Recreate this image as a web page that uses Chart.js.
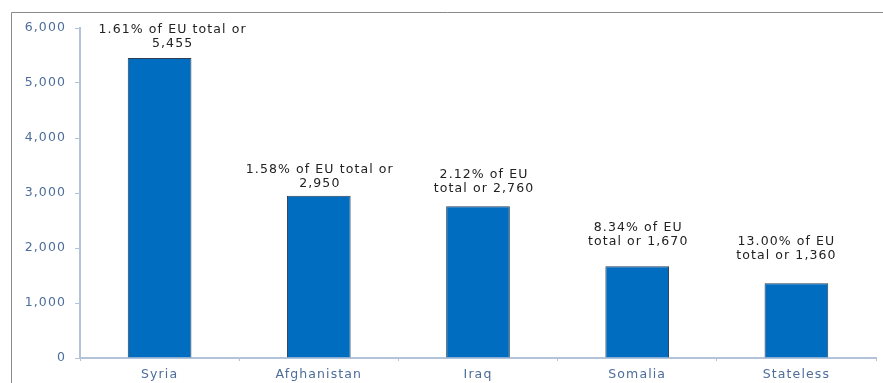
<!DOCTYPE html>
<html>
<head>
<meta charset="utf-8">
<script src="https://cdn.jsdelivr.net/npm/chart.js@4/dist/chart.umd.min.js"></script>
<style>
    html, body { margin: 0; padding: 0; background: #ffffff; }
    #grafico { display: block; }
</style>
</head>
<body>
<canvas id="grafico" width="883" height="383"></canvas>
<script>
const listaPaises = ['Syria', 'Afghanistan', 'Iraq', 'Somalia', 'Stateless'];
const listaValores = [5455, 2950, 2760, 1670, 1360];
const listaRotulos = [
    ['1.61% of EU total or', '5,455'],
    ['1.58% of EU total or', '2,950'],
    ['2.12% of EU', 'total or 2,760'],
    ['8.34% of EU', 'total or 1,670'],
    ['13.00% of EU', 'total or 1,360']
];

const fonte = "'DejaVu Sans', Verdana, sans-serif";

// fonte estilo Verdana: mais larga, com espaçamento extra
const pluginEspacamento = {
    id: 'espacamento',
    beforeUpdate(chart) { chart.ctx.letterSpacing = '1.1px'; },
    beforeDraw(chart) { chart.ctx.letterSpacing = '1.1px'; }
};

// moldura cinza em cima e à esquerda
const pluginMoldura = {
    id: 'moldura',
    beforeDraw(chart) {
        const ctx = chart.ctx;
        ctx.save();
        ctx.strokeStyle = '#8a8a8a';
        ctx.lineWidth = 1;
        ctx.beginPath();
        ctx.moveTo(11.5, chart.height);
        ctx.lineTo(11.5, 12.5);
        ctx.lineTo(chart.width, 12.5);
        ctx.stroke();
        ctx.restore();
    }
};

// rótulos de duas linhas acima das barras
const pluginRotulos = {
    id: 'rotulos',
    afterDatasetsDraw(chart, args, opcoes) {
        const ctx = chart.ctx;
        const meta = chart.getDatasetMeta(0);
        ctx.save();
        ctx.font = '12.5px ' + fonte;
        ctx.fillStyle = '#222222';
        ctx.textAlign = 'center';
        ctx.textBaseline = 'bottom';
        meta.data.forEach((barra, i) => {
            const linhas = listaRotulos[i];
            const x = barra.x + (opcoes.dx[i] || 0);
            const yBase = barra.y - (opcoes.gap[i] || 8);
            for (let k = linhas.length - 1; k >= 0; k--) {
                ctx.fillText(linhas[k], x, yBase - (linhas.length - 1 - k) * 14);
            }
        });
        ctx.restore();
    }
};

const contexto = document.getElementById('grafico').getContext('2d');

new Chart(contexto, {
    type: 'bar',
    data: {
        labels: listaPaises,
        datasets: [
            {
                data: listaValores,
                backgroundColor: '#006dc0',
                borderColor: '#2c3e52',
                borderWidth: 1,
                borderSkipped: 'bottom',
                categoryPercentage: 0.8,
                barPercentage: 0.5
            }
        ]
    },
    options: {
        responsive: false,
        animation: false,
        layout: {
            padding: { top: 28, right: 7, left: 0, bottom: 0 }
        },
        scales: {
            x: {
                afterFit(scale) { scale.height = 25; },
                border: { color: '#b3c3d9', width: 2 },
                grid: {
                    drawOnChartArea: false,
                    color: '#b3c3d9',
                    tickLength: 3,
                    offset: true
                },
                ticks: {
                    color: '#4d6d9a',
                    font: { family: fonte, size: 12.5 },
                    padding: 6
                }
            },
            y: {
                min: 0,
                max: 6000,
                afterFit(scale) { scale.width = 80; },
                border: { color: '#b3c3d9', width: 2 },
                grid: {
                    drawOnChartArea: false,
                    color: '#b3c3d9',
                    tickLength: 5
                },
                ticks: {
                    stepSize: 1000,
                    color: '#4d6d9a',
                    font: { family: fonte, size: 12.5 },
                    padding: 9,
                    callback: (valor) => valor.toLocaleString('en-US')
                }
            }
        },
        plugins: {
            legend: { display: false },
            tooltip: { enabled: false },
            rotulos: {
                dx: [13, 1, 6, 1, -10],
                gap: [8, 6, 11, 18, 21]
            }
        }
    },
    plugins: [pluginEspacamento, pluginMoldura, pluginRotulos]
});
</script>
</body>
</html>
